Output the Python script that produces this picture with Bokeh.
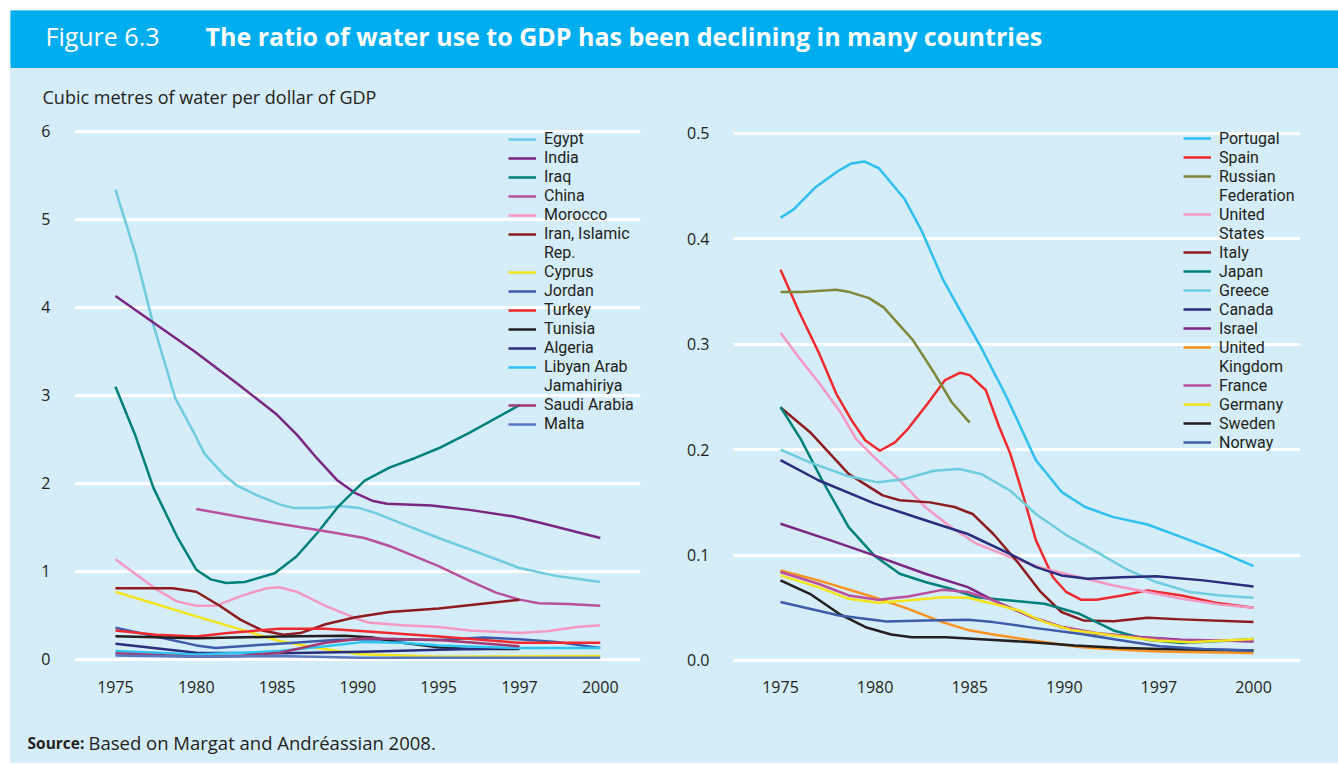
from bokeh.plotting import figure
from bokeh.models import Legend, LegendItem, Label, FixedTicker, Range1d, Spacer
from bokeh.layouts import column, row
from bokeh.embed import file_html
from bokeh.resources import INLINE

FONT = "Open Sans"
LEG_FONT = "Roboto"
BG = "#D5ECF9"
HEAD = "#00AEEF"
TXT = "#231F20"

# ---------------- data ----------------
LEFT_YEARS = ["1975", "1980", "1985", "1990", "1995", "1997", "2000"]
RIGHT_YEARS = ["1975", "1980", "1985", "1990", "1997", "2000"]
LEFT_Y_TICKS = [0, 1, 2, 3, 4, 5, 6]
RIGHT_Y_TICKS = [0, 0.1, 0.2, 0.3, 0.4, 0.5]
RIGHT_Y_LABELS = ["0.0", "0.1", "0.2", "0.3", "0.4", "0.5"]

# (position on the year axis, value) pairs
EGYPT = [(0, 5.34), (0.25, 4.60), (0.47, 3.80), (0.74, 2.97), (0.94, 2.63), (1.1, 2.34), (1.34, 2.10),
         (1.49, 1.985), (1.74, 1.87), (2.04, 1.76), (2.21, 1.72), (2.51, 1.72), (2.8, 1.74), (3.02, 1.72),
         (3.23, 1.66), (3.53, 1.55), (4.0, 1.38), (4.39, 1.25), (5.0, 1.04), (5.45, 0.95), (6.0, 0.88)]
INDIA = [(0, 4.13), (0.98, 3.5), (1.53, 3.12), (2.0, 2.78), (2.25, 2.55), (2.49, 2.29), (2.74, 2.04),
         (2.97, 1.89), (3.19, 1.80), (3.36, 1.77), (3.91, 1.75), (4.38, 1.70), (4.93, 1.625), (5.27, 1.55),
         (6.0, 1.38)]
IRAQ = [(0, 3.10), (0.24, 2.56), (0.47, 1.95), (0.76, 1.40), (1.0, 1.02), (1.18, 0.91), (1.37, 0.87),
        (1.6, 0.88), (1.97, 0.98), (2.24, 1.17), (2.5, 1.44), (2.76, 1.74), (3.08, 2.03), (3.39, 2.18),
        (3.71, 2.29), (4.0, 2.40), (4.39, 2.58), (5.0, 2.89)]
CHINA = [(1, 1.71), (1.97, 1.55), (2.71, 1.44), (3.08, 1.38), (3.39, 1.29), (4.0, 1.06), (4.39, 0.89),
         (4.71, 0.76), (5.0, 0.68), (5.24, 0.64), (5.6, 0.63), (6.0, 0.61)]
MOROCCO = [(0, 1.14), (0.5, 0.80), (0.76, 0.66), (1.0, 0.61), (1.24, 0.61), (1.55, 0.72), (1.87, 0.81),
           (2.03, 0.82), (2.24, 0.77), (2.6, 0.61), (2.97, 0.47), (3.13, 0.42), (3.55, 0.39), (4.0, 0.37),
           (4.39, 0.33), (5.0, 0.30), (5.34, 0.32), (5.71, 0.37), (6.0, 0.39)]
IRAN = [(0, 0.81), (0.71, 0.81), (1.0, 0.77), (1.29, 0.61), (1.55, 0.45), (1.82, 0.33), (2.08, 0.28),
        (2.29, 0.30), (2.6, 0.40), (2.97, 0.48), (3.39, 0.54), (4.0, 0.58), (5.0, 0.68)]
CYPRUS = [(0, 0.77), (1.0, 0.49), (2.03, 0.21), (2.5, 0.13), (3.03, 0.06), (4.0, 0.03), (6.0, 0.04)]
JORDAN = [(0, 0.36), (0.5, 0.26), (1.0, 0.16), (1.24, 0.13), (1.55, 0.15), (2.03, 0.18), (2.71, 0.22),
          (3.08, 0.23), (4.0, 0.22), (4.55, 0.25), (5.0, 0.23), (5.45, 0.20), (6.0, 0.13)]
TURKEY = [(0, 0.33), (0.5, 0.28), (1.0, 0.26), (1.39, 0.30), (2.03, 0.35), (2.6, 0.35), (3.08, 0.32),
          (4.0, 0.26), (5.0, 0.19), (6.0, 0.19)]
TUNISIA = [(0, 0.265), (1.0, 0.24), (2.03, 0.26), (2.84, 0.27), (3.18, 0.25), (3.55, 0.19), (4.0, 0.14),
           (4.39, 0.12), (5.0, 0.12)]
ALGERIA = [(0, 0.18), (1.0, 0.076), (2.03, 0.07), (3.08, 0.087), (4.0, 0.11), (5.0, 0.13)]
LIBYA = [(0, 0.095), (1.0, 0.057), (1.55, 0.076), (2.03, 0.095), (2.6, 0.15), (3.08, 0.20), (3.55, 0.19),
         (4.0, 0.16), (5.0, 0.13), (6.0, 0.13)]
SAUDI = [(0, 0.07), (1.0, 0.03), (1.55, 0.04), (2.03, 0.076), (2.6, 0.19), (3.08, 0.24), (4.0, 0.22),
         (5.0, 0.15)]
MALTA = [(0, 0.045), (1.0, 0.03), (2.0, 0.04), (3.03, 0.02), (6.0, 0.02)]

PORTUGAL = [(0, 0.42), (0.14, 0.428), (0.37, 0.449), (0.62, 0.465), (0.75, 0.4716), (0.885, 0.4735),
            (1.04, 0.467), (1.31, 0.438), (1.49, 0.408), (1.72, 0.361), (1.9, 0.332), (2.12, 0.297),
            (2.39, 0.25), (2.7, 0.19), (2.97, 0.16), (3.22, 0.1456), (3.52, 0.136), (3.88, 0.129),
            (4.24, 0.117), (4.65, 0.103), (5.0, 0.0896)]
SPAIN = [(0, 0.3707), (0.19, 0.332), (0.41, 0.291), (0.59, 0.253), (0.75, 0.228), (0.895, 0.209),
         (1.05, 0.199), (1.21, 0.207), (1.35, 0.22), (1.55, 0.243), (1.74, 0.266), (1.9, 0.273),
         (2.0, 0.2707), (2.17, 0.2565), (2.31, 0.222), (2.43, 0.196), (2.57, 0.155), (2.7, 0.114),
         (2.88, 0.079), (3.02, 0.065), (3.18, 0.0576), (3.34, 0.0576), (3.61, 0.0617), (3.88, 0.0665),
         (4.24, 0.0617), (4.6, 0.0547), (5.0, 0.05)]
RUSSIA = [(0, 0.3495), (0.23, 0.3495), (0.59, 0.3517), (0.73, 0.3495), (0.93, 0.344), (1.09, 0.335),
          (1.4, 0.304), (1.63, 0.272), (1.81, 0.245), (2.0, 0.2256)]
USA = [(0, 0.311), (0.19, 0.288), (0.41, 0.263), (0.63, 0.236), (0.8, 0.21), (0.99, 0.193), (1.26, 0.171),
       (1.53, 0.1456), (1.8, 0.1266), (2.07, 0.1108), (2.43, 0.098), (2.79, 0.087), (3.16, 0.079),
       (3.52, 0.0712), (3.88, 0.0649), (4.24, 0.0585), (4.65, 0.053), (5.0, 0.05)]
ITALY = [(0, 0.24), (0.31, 0.2168), (0.72, 0.177), (1.08, 0.1566), (1.26, 0.152), (1.58, 0.150),
         (1.84, 0.1456), (2.03, 0.139), (2.25, 0.12), (2.52, 0.0918), (2.75, 0.065), (2.97, 0.046),
         (3.2, 0.038), (3.52, 0.0373), (3.88, 0.0405), (4.24, 0.039), (5.0, 0.0364)]
JAPAN = [(0, 0.2405), (0.22, 0.209), (0.44, 0.171), (0.72, 0.1266), (0.99, 0.0997), (1.26, 0.0823),
         (1.53, 0.0744), (1.8, 0.068), (2.07, 0.06), (2.43, 0.057), (2.79, 0.0538), (3.16, 0.0443),
         (3.52, 0.0285), (3.88, 0.0196), (4.24, 0.0165), (4.65, 0.0184), (5.0, 0.0203)]
GREECE = [(0, 0.2), (0.31, 0.188), (0.72, 0.1747), (1.03, 0.169), (1.3, 0.172), (1.62, 0.18), (1.89, 0.1816),
          (2.12, 0.177), (2.43, 0.161), (2.7, 0.139), (3.02, 0.119), (3.34, 0.103), (3.65, 0.087),
          (3.97, 0.0744), (4.33, 0.0649), (4.65, 0.0617), (5.0, 0.0595)]
CANADA = [(0, 0.19), (0.4, 0.171), (0.99, 0.149), (1.53, 0.133), (1.98, 0.12), (2.43, 0.101), (2.7, 0.0886),
          (2.97, 0.0807), (3.25, 0.0775), (3.61, 0.079), (3.97, 0.08), (4.47, 0.076), (5.0, 0.0703)]
ISRAEL = [(0, 0.1297), (0.53, 0.114), (0.99, 0.0997), (1.53, 0.0823), (1.98, 0.0696), (2.25, 0.057),
          (2.66, 0.041), (2.97, 0.0316), (3.34, 0.0253), (3.79, 0.0222), (4.24, 0.0196), (4.65, 0.019),
          (5.0, 0.018)]
UK = [(0, 0.0854), (0.4, 0.076), (0.99, 0.06), (1.35, 0.049), (1.71, 0.0364), (1.98, 0.029), (2.25, 0.0247),
      (2.7, 0.0184), (3.16, 0.0127), (3.61, 0.0101), (4.01, 0.0085), (5.0, 0.007)]
FRANCE = [(0, 0.0839), (0.4, 0.0728), (0.72, 0.0617), (1.03, 0.0576), (1.35, 0.0608), (1.71, 0.067),
          (1.98, 0.065), (2.25, 0.057), (2.66, 0.041), (2.97, 0.032), (3.34, 0.026), (3.79, 0.022),
          (4.24, 0.019), (5.0, 0.019)]
GERMANY = [(0, 0.0807), (0.4, 0.0696), (0.72, 0.0585), (1.03, 0.0547), (1.35, 0.057), (1.71, 0.06),
           (1.98, 0.0595), (2.25, 0.0538), (2.52, 0.0475), (2.79, 0.0364), (3.07, 0.029), (3.52, 0.0237),
           (3.97, 0.019), (4.33, 0.0174), (5.0, 0.0203)]
SWEDEN = [(0, 0.076), (0.31, 0.0633), (0.62, 0.0443), (0.9, 0.0316), (1.17, 0.0247), (1.39, 0.022),
          (1.75, 0.022), (2.21, 0.0196), (2.66, 0.0174), (3.11, 0.0142), (3.56, 0.012), (4.01, 0.0108),
          (5.0, 0.0095)]
NORWAY = [(0, 0.0554), (0.62, 0.0427), (1.12, 0.037), (1.53, 0.038), (1.98, 0.0386), (2.25, 0.0364),
          (2.7, 0.0307), (3.16, 0.0253), (3.61, 0.019), (4.01, 0.0136), (4.47, 0.011), (5.0, 0.0095)]

LEFT_SERIES = [
    ("Egypt", EGYPT, "#6DCCDD"),
    ("India", INDIA, "#7A2682"),
    ("Iraq", IRAQ, "#00807A"),
    ("China", CHINA, "#B8509E"),
    ("Morocco", MOROCCO, "#F49AC2"),
    ("Iran, Islamic\nRep.", IRAN, "#8C1C1F"),
    ("Cyprus", CYPRUS, "#F2E51B"),
    ("Jordan", JORDAN, "#3E5BA9"),
    ("Turkey", TURKEY, "#EE2A2E"),
    ("Tunisia", TUNISIA, "#231F20"),
    ("Algeria", ALGERIA, "#2A2D7C"),
    ("Libyan Arab\nJamahiriya", LIBYA, "#2EC4F2"),
    ("Saudi Arabia", SAUDI, "#A23A72"),
    ("Malta", MALTA, "#5A78C0"),
]
RIGHT_SERIES = [
    ("Portugal", PORTUGAL, "#2EC0EE"),
    ("Spain", SPAIN, "#EE2A2E"),
    ("Russian\nFederation", RUSSIA, "#7E873A"),
    ("United\nStates", USA, "#F49AC2"),
    ("Italy", ITALY, "#8C1C1F"),
    ("Japan", JAPAN, "#00807A"),
    ("Greece", GREECE, "#6DCCDD"),
    ("Canada", CANADA, "#2A2D7C"),
    ("Israel", ISRAEL, "#7A2682"),
    ("United\nKingdom", UK, "#F7931E"),
    ("France", FRANCE, "#B8509E"),
    ("Germany", GERMANY, "#F2E51B"),
    ("Sweden", SWEDEN, "#231F20"),
    ("Norway", NORWAY, "#3E5BA9"),
]

PANEL_H = 650
FRAME_H = 550
LEG_PAD = 4
ROW_H = 18.75


def make_panel(width, x_range, y_range, border_left, border_right, years, yticks, series, leg_x,
               ylabels=None):
    p = figure(width=width, height=PANEL_H, x_range=Range1d(*x_range), y_range=Range1d(*y_range),
               output_backend="svg", toolbar_location=None,
               min_border_left=border_left, min_border_right=border_right,
               min_border_top=54, min_border_bottom=46)
    p.background_fill_color = BG
    p.border_fill_color = BG
    p.outline_line_color = None
    p.xgrid.grid_line_color = None
    p.ygrid.grid_line_color = "white"
    p.ygrid.grid_line_width = 3
    p.yaxis.ticker = FixedTicker(ticks=yticks)
    p.ygrid.ticker = FixedTicker(ticks=yticks)
    if ylabels:
        p.yaxis.major_label_overrides = {t: l for t, l in zip(yticks, ylabels)}
    p.xaxis.ticker = FixedTicker(ticks=list(range(len(years))))
    p.xaxis.major_label_overrides = {i: y for i, y in enumerate(years)}
    for ax in (p.xaxis, p.yaxis):
        ax.axis_line_color = None
        ax.major_tick_line_color = None
        ax.minor_tick_line_color = None
        ax.major_label_text_font = FONT
        ax.major_label_text_font_size = "16px"
        ax.major_label_text_color = TXT
    p.yaxis.major_label_standoff = 18
    p.xaxis.major_label_standoff = 2

    dummy = p.line(x=[], y=[], line_alpha=0)
    items = []
    for name, data, color in series:
        xs = [d[0] for d in data]
        ys = [d[1] for d in data]
        r = p.line(x=xs, y=ys, line_color=color, line_width=2.5, line_join="round")
        parts = name.split("\n")
        items.append(LegendItem(label=parts[0], renderers=[r]))
        for extra in parts[1:]:
            items.append(LegendItem(label=extra, renderers=[dummy]))
    leg_h = len(items) * ROW_H + 2 * LEG_PAD
    leg_top = 3
    legend = Legend(items=items, location=(leg_x, FRAME_H - leg_top - leg_h), background_fill_alpha=0,
                    border_line_color=None, margin=0, padding=LEG_PAD, spacing=0,
                    label_height=18, glyph_height=18, glyph_width=28, label_standoff=8,
                    label_text_font=LEG_FONT, label_text_font_size="16px", label_text_color=TXT)
    p.add_layout(legend)
    return p


left = make_panel(660, (-0.507, 6.498), (-0.148, 6.102), 64, 30, LEFT_YEARS, LEFT_Y_TICKS,
                  LEFT_SERIES, 434)
right = make_panel(668, (-0.497, 5.497), (-0.0114, 0.5104), 63, 38, RIGHT_YEARS, RIGHT_Y_TICKS,
                   RIGHT_SERIES, 450, RIGHT_Y_LABELS)

left.title.text = "Cubic metres of water per dollar of GDP"
left.title.align = "left"
left.title.offset = -32
left.title.standoff = 27
left.title.text_font = FONT
left.title.text_font_size = "18px"
left.title.text_font_style = "normal"
left.title.text_color = TXT


def banner(height, color):
    p = figure(width=1328, height=height, x_range=Range1d(0, 1), y_range=Range1d(0, 1),
               output_backend="svg", toolbar_location=None,
               x_axis_type=None, y_axis_type=None, min_border=0)
    p.background_fill_color = color
    p.border_fill_color = color
    p.outline_line_color = None
    p.grid.visible = False
    return p


header = banner(58, HEAD)
header.add_layout(Label(x=35, y=33, x_units="screen", y_units="screen", text="Figure 6.3",
                        text_font=FONT, text_font_size="25px", text_color="white", text_baseline="middle"))
header.add_layout(Label(x=195, y=33, x_units="screen", y_units="screen",
                        text="The ratio of water use to GDP has been declining in many countries",
                        text_font=FONT, text_font_size="25px", text_font_style="bold",
                        text_color="white", text_baseline="middle"))

footer = banner(45, BG)
footer.add_layout(Label(x=17, y=21, x_units="screen", y_units="screen", text="Source:",
                        text_font=FONT, text_font_size="15.5px", text_font_style="bold",
                        text_color=TXT, text_baseline="middle"))
footer.add_layout(Label(x=78, y=21, x_units="screen", y_units="screen",
                        text="Based on Margat and Andréassian 2008.",
                        text_font=FONT, text_font_size="18.5px", text_color=TXT, text_baseline="middle"))

bg_style = {"background-color": BG}
panels = row(left, right, spacing=0, styles=bg_style)
inner = column(header, panels, footer, spacing=0, styles=bg_style)
layout = column(Spacer(width=1338, height=10), row(Spacer(width=10, height=10), inner, spacing=0), spacing=0)
open("out.html", "w").write(file_html(layout, INLINE))
